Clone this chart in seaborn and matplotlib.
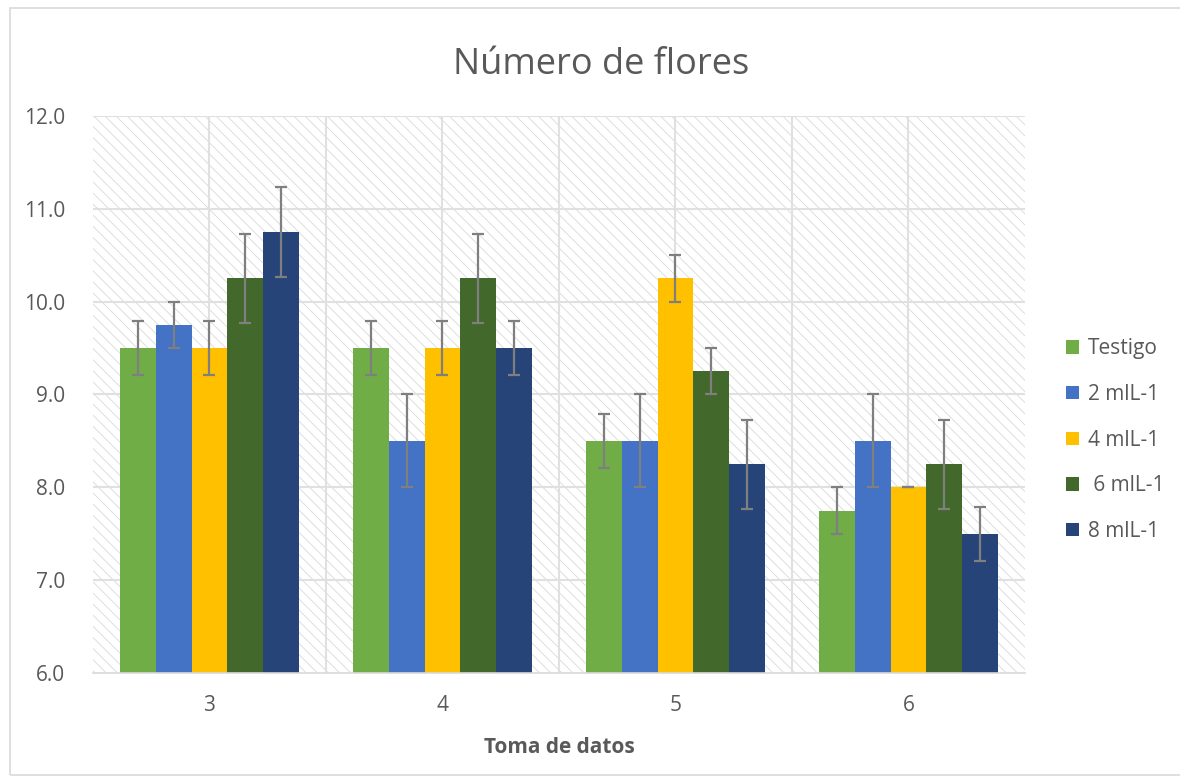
import matplotlib
matplotlib.use('Agg')
import matplotlib.pyplot as plt
import seaborn as sns
import pandas as pd
from matplotlib.patches import Rectangle

# === Datos ===
tomas = ['3', '4', '5', '6']
tratamientos = ['Testigo', '2 mlL-1', '4 mlL-1', ' 6 mlL-1', '8 mlL-1']
medias = {
    'Testigo': [9.5, 9.5, 8.5, 7.75],
    '2 mlL-1': [9.75, 8.5, 8.5, 8.5],
    '4 mlL-1': [9.5, 9.5, 10.25, 8.0],
    ' 6 mlL-1': [10.25, 10.25, 9.25, 8.25],
    '8 mlL-1': [10.75, 9.5, 8.25, 7.5],
}
errores = {
    'Testigo': [0.29, 0.29, 0.29, 0.25],
    '2 mlL-1': [0.25, 0.5, 0.5, 0.5],
    '4 mlL-1': [0.29, 0.29, 0.25, 0.0],
    ' 6 mlL-1': [0.48, 0.48, 0.25, 0.48],
    '8 mlL-1': [0.48, 0.29, 0.48, 0.29],
}
colores = ['#70AD47', '#4472C4', '#FFC000', '#43682B', '#264478']

filas = []
for t in tratamientos:
    for i, toma in enumerate(tomas):
        filas.append({'toma': toma, 'tratamiento': t,
                      'valor': medias[t][i], 'error': errores[t][i]})
df = pd.DataFrame(filas)

# === Figura ===
sns.set_theme(style='white')
plt.rcParams['font.family'] = ['Open Sans', 'DejaVu Sans']
plt.rcParams['hatch.linewidth'] = 0.6

fig = plt.figure(figsize=(11.8, 7.83), dpi=100)
ax = fig.add_axes([0.0788, 0.1405, 0.7898, 0.7114])

ax.patch.set_facecolor('white')
ax.patch.set_edgecolor('#d9d9d9')
ax.patch.set_hatch('\\\\\\')
ax.patch.set_linewidth(0)

sns.barplot(data=df, x='toma', y='valor', hue='tratamiento', order=tomas,
            hue_order=tratamientos, palette=colores, width=0.77,
            errorbar=None, saturation=1, linewidth=0, ax=ax, zorder=3)

# barras de error
for cont, t in zip(ax.containers, tratamientos):
    xs = [b.get_x() + b.get_width() / 2 for b in cont]
    ax.errorbar(xs, medias[t], yerr=errores[t], fmt='none', ecolor='#7f7f7f',
                elinewidth=1.6, capsize=4.3, capthick=1.6, zorder=4)

ax.set_ylim(6, 12)
ax.set_xlim(-0.5, 3.5)
ax.set_yticks([6, 7, 8, 9, 10, 11, 12])
ax.set_yticklabels([f'{v:.1f}' for v in [6, 7, 8, 9, 10, 11, 12]])
for v in [7, 8, 9, 10, 11, 12]:
    ax.axhline(v, color='#e0e0e0', lw=1.5, zorder=1)
for v in [0, 0.5, 1, 1.5, 2, 2.5, 3]:
    ax.axvline(v, color='#e0e0e0', lw=1.5, zorder=1)

for s in ['top', 'right', 'left']:
    ax.spines[s].set_visible(False)
ax.spines['bottom'].set_color('#d9d9d9')
ax.spines['bottom'].set_linewidth(1.2)
ax.spines['bottom'].set_zorder(5)

ax.tick_params(axis='both', length=0, labelsize=15, labelcolor='#595959')
ax.tick_params(axis='x', pad=16)
ax.tick_params(axis='y', pad=20)
ax.set_xlabel('Toma de datos', fontsize=15, fontweight='bold', color='#595959', labelpad=15)
ax.set_ylabel('')
fig.text(601 / 1180, 1 - 74 / 783, 'Número de flores', fontsize=26, color='#595959',
         ha='center', va='baseline')

leg = ax.legend(loc='center left', bbox_to_anchor=(1.044, 0.418), frameon=False,
                fontsize=15, handlelength=0.62, handleheight=0.62, borderpad=0,
                borderaxespad=0, labelspacing=1.18, handletextpad=0.45)
for txt in leg.get_texts():
    txt.set_color('#595959')

fig.patches.append(Rectangle((10 / 1180, 8 / 783), 1.0, 767 / 783,
                             transform=fig.transFigure, fill=False,
                             edgecolor='#d9d9d9', lw=1.2))

fig.savefig('out.png', dpi=100)
